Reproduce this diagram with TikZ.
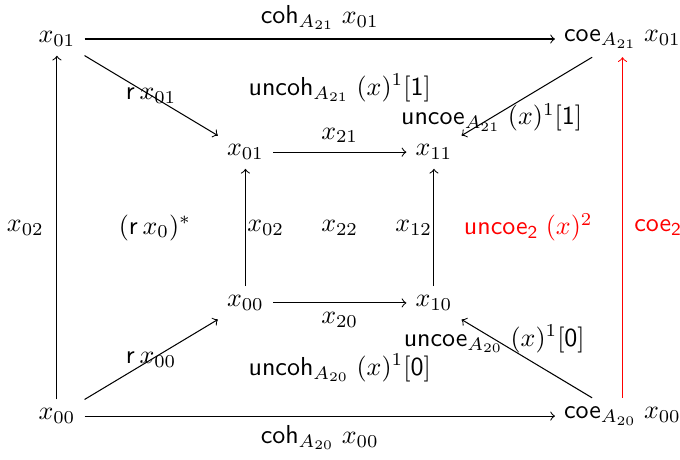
\documentclass[tikz,border=0pt]{standalone}
\usepackage{amsmath, amssymb}
\usepackage{tikz}

\begin{document}
\begin{tikzpicture}[x=2.55cm, y=2.55cm]
  \useasboundingbox (-0.302, -0.228) rectangle (3.305, 2.207);
  % corners of the outer square
  \node (a01) at (0, 2) {$x_{01}$};
  \node (c01) at (3, 2) {$\mathsf{coe}_{A_{21}}\;x_{01}$};
  \node (a00) at (0, 0) {$x_{00}$};
  \node (c00) at (3, 0) {$\mathsf{coe}_{A_{20}}\;x_{00}$};
  % inner square
  \node (b01) at (1, 1.4) {$x_{01}$};
  \node (b11) at (2, 1.4) {$x_{11}$};
  \node (b00) at (1, 0.6) {$x_{00}$};
  \node (b10) at (2, 0.6) {$x_{10}$};
  % faces
  \node (f21) at (1.5, 1.74) {$\mathsf{uncoh}_{A_{21}}\;(x)^1[\mathsf{1}]$};
  \node (f20) at (1.5, 0.255) {$\mathsf{uncoh}_{A_{20}}\;(x)^1[\mathsf{0}]$};
  \node (fr) at (0.52, 1) {$(\mathsf{r}\,x_0)^*$};
  \node (f22) at (1.5, 1) {$x_{22}$};
  \node[red] (fc) at (2.5, 1) {$\mathsf{uncoe}_{\mathsf{2}}\;(x)^2$};

  \draw[->] (a01) -- (c01) node[midway, above] {$\mathsf{coh}_{A_{21}}\;x_{01}$};
  \draw[->] (a00) -- (c00) node[midway, below] {$\mathsf{coh}_{A_{20}}\;x_{00}$};
  \draw[->] (a00) -- (a01) node[midway, left=1.5pt] {$x_{02}$};
  \draw[->, red] (c00) -- (c01) node[midway, right=1pt] {$\mathsf{coe}_{\mathsf{2}}$};
  \draw[->] (a01) -- (b01) node[midway] {$\mathsf{r}\,x_{01}$};
  \draw[->] (a00) -- (b00) node[midway] {$\mathsf{r}\,x_{00}$};
  \draw[->] (c01) -- (b11) node[pos=0.77] {$\mathsf{uncoe}_{A_{21}}\;(x)^1[\mathsf{1}]$};
  \draw[->] (c00) -- (b10) node[pos=0.75] {$\mathsf{uncoe}_{A_{20}}\;(x)^1[\mathsf{0}]$};
  \draw[->] (b01) -- (b11) node[midway, above] {$x_{21}$};
  \draw[->] (b00) -- (b10) node[midway, below] {$x_{20}$};
  \draw[->] (b00) -- (b01) node[midway, right, inner sep=0.5pt] {$x_{02}$};
  \draw[->] (b10) -- (b11) node[midway, left, inner sep=0.5pt] {$x_{12}$};
\end{tikzpicture}
\end{document}
